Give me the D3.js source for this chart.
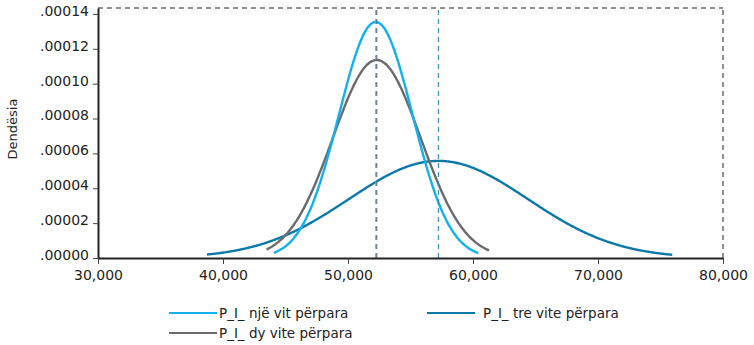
<!DOCTYPE html>
<html>
<head>
<meta charset="utf-8">
<script src="https://cdn.jsdelivr.net/npm/d3@7"></script>
<style>
  body { margin: 0; background: #fff; }
  text { font-family: "DejaVu Sans", sans-serif; fill: #222; }
</style>
</head>
<body>
<div id="chart"></div>
<script>
// series: fitted normal curves (mean, sd) drawn over the data range
const seriesNames = ["P_I_ një vit përpara", "P_I_ dy vite përpara", "P_I_ tre vite përpara"];
const seriesMeans = [52220, 52300, 57230];
const seriesSds = [2946, 3512, 7162];
const seriesMins = [44080, 43490, 38720];
const seriesMaxs = [60420, 61280, 75940];
const seriesColors = ["#12b0ec", "#6a6b6e", "#0b79a8"];
const meanLineColors = ["#3fb6e8", "#5e6c78", "#2a8fc2"];

const xTicks = [30000, 40000, 50000, 60000, 70000, 80000];
const yTicks = [0, 0.00002, 0.00004, 0.00006, 0.00008, 0.00010, 0.00012, 0.00014];

const width = 754, height = 345;
const margin = {left: 98, right: 31, top: 8, bottom: 87};

const svg = d3.select("#chart").append("svg")
  .attr("width", width)
  .attr("height", height);

const x = d3.scaleLinear()
  .domain([30000, 80000])
  .range([margin.left, width - margin.right]);

const y = d3.scaleLinear()
  .domain([0, 0.0001434])
  .range([height - margin.bottom, margin.top]);

const fmtX = d3.format(",");
const fmtY = v => d3.format(".5f")(v).replace(/^0/, "");

// frame: dashed top and right
svg.append("line")
  .attr("x1", x(30000)).attr("x2", x(80000))
  .attr("y1", y.range()[1]).attr("y2", y.range()[1])
  .attr("stroke", "#222").attr("stroke-dasharray", "5,4");
svg.append("line")
  .attr("x1", x(80000)).attr("x2", x(80000))
  .attr("y1", y.range()[0]).attr("y2", y.range()[1])
  .attr("stroke", "#222").attr("stroke-dasharray", "5,4");

// curves
const pdf = (v, m, s) => Math.exp(-0.5 * ((v - m) / s) ** 2) / (s * Math.sqrt(2 * Math.PI));
const lineGen = d3.line().x(d => x(d[0])).y(d => y(d[1])).curve(d3.curveBasis);

// draw order: dark blue at the back
[2, 1, 0].forEach(i => {
  const pts = d3.range(seriesMins[i], seriesMaxs[i], 100).concat([seriesMaxs[i]])
    .map(v => [v, pdf(v, seriesMeans[i], seriesSds[i])]);
  svg.append("path")
    .datum(pts)
    .attr("fill", "none")
    .attr("stroke", seriesColors[i])
    .attr("stroke-width", 2.4)
    .attr("d", lineGen);
});

// mean lines
[0, 1, 2].forEach(i => {
  svg.append("line")
    .attr("x1", x(seriesMeans[i])).attr("x2", x(seriesMeans[i]))
    .attr("y1", y(0)).attr("y2", y.range()[1])
    .attr("stroke", meanLineColors[i])
    .attr("stroke-width", 1.1)
    .attr("stroke-dasharray", "5,4");
});

// axes
const xAxis = d3.axisBottom(x).tickValues(xTicks).tickFormat(fmtX).tickSize(6).tickSizeOuter(0);
const gx = svg.append("g")
  .attr("transform", `translate(0, ${y(0)})`)
  .call(xAxis);
gx.select(".domain").attr("stroke", "#222").attr("stroke-width", 2);
gx.selectAll(".tick line").attr("stroke", "#444");
gx.selectAll(".tick text")
  .attr("font-family", "DejaVu Sans").attr("font-size", 14).attr("fill", "#222")
  .attr("dy", "0.95em");

const yAxis = d3.axisLeft(y).tickValues(yTicks).tickFormat(fmtY).tickSize(5).tickSizeOuter(0);
const gy = svg.append("g")
  .attr("transform", `translate(${margin.left}, 0)`)
  .call(yAxis);
gy.select(".domain").attr("stroke", "#222").attr("stroke-width", 2);
gy.selectAll(".tick line").attr("stroke", "#444");
gy.selectAll(".tick text")
  .attr("font-family", "DejaVu Sans").attr("font-size", 14).attr("fill", "#222")
  .attr("x", -9).attr("dy", "0.1em");

svg.append("text")
  .attr("transform", `translate(17, ${(y(0) + y.range()[1]) / 2 - 4}) rotate(-90)`)
  .attr("text-anchor", "middle")
  .attr("font-size", 13)
  .text("Dendësia");

// legend
const legendPos = [[169, 313], [169, 333], [427, 313]];
const legend = svg.append("g");
[0, 1, 2].forEach(i => {
  const [lx, ly] = legendPos[i];
  const lineLen = i === 2 ? 48 : 48;
  legend.append("line")
    .attr("x1", lx).attr("x2", lx + lineLen)
    .attr("y1", ly).attr("y2", ly)
    .attr("stroke", seriesColors[i]).attr("stroke-width", 2);
  legend.append("text")
    .attr("x", lx + lineLen + (i === 2 ? 8 : 2))
    .attr("y", ly)
    .attr("dy", "0.35em")
    .attr("font-size", 13.5)
    .text(seriesNames[i]);
});
</script>
</body>
</html>
